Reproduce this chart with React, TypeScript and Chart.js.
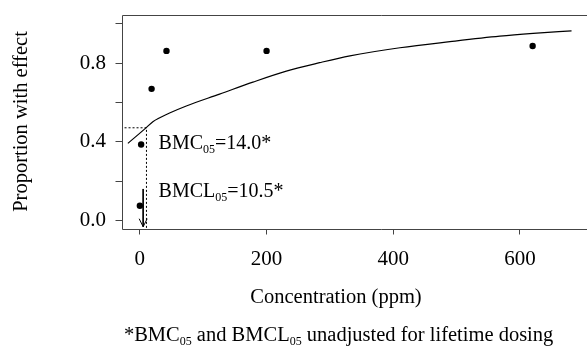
import React, { useEffect, useRef } from "react";
import { Chart, registerables } from "chart.js";

Chart.register(...registerables);

// Observed data (dose in ppm, proportion with effect)
const doses = [0, 2, 18.5, 42, 200, 620];
const proportions = [0.076, 0.387, 0.67, 0.863, 0.863, 0.888];

// Fitted dose-response curve
const curveX = [-18.9, 10.1, 20.5, 46.9, 73.3, 125.8, 178.4, 231.2, 283.7, 331.6, 410.5, 489.5, 568.2, 620.8, 681.4];
const curveY = [0.393, 0.473, 0.503, 0.547, 0.583, 0.643, 0.704, 0.76, 0.803, 0.838, 0.879, 0.91, 0.938, 0.952, 0.965];

// Benchmark guide lines (as drawn)
const bmcGuideX = [-24.2, 10.4, 10.4];
const bmcGuideY = [0.472, 0.472, -0.04];
const bmclArrowX = [5.2, 5.2];
const bmclArrowY = [0.161, -0.031];

// Axis ticks
const xTicks = [0, 200, 400, 600];
const yTicks = [0, 0.2, 0.4, 0.6, 0.8, 1.0];
const yLabeled = [0, 0.4, 0.8];

// Texts
const yTitle = "Proportion with effect";
const xTitle = "Concentration (ppm)";
const bmcLabel = [{ t: "BMC" }, { t: "05", sub: true }, { t: "=14.0*" }];
const bmclLabel = [{ t: "BMCL" }, { t: "05", sub: true }, { t: "=10.5*" }];
const footnote = [
  { t: "*BMC" },
  { t: "05", sub: true },
  { t: " and BMCL" },
  { t: "05", sub: true },
  { t: " unadjusted for lifetime dosing" },
];

const FAMILY = '"Liberation Serif", "DejaVu Serif", "Times New Roman", serif';

type Seg = { t: string; sub?: boolean };

function drawRich(ctx: CanvasRenderingContext2D, segs: Seg[], x: number, y: number, size: number, align: "left" | "center") {
  const subSize = Math.round(size * 0.6);
  const widths = segs.map((s) => {
    ctx.font = `${s.sub ? subSize : size}px ${FAMILY}`;
    return ctx.measureText(s.t).width;
  });
  const total = widths.reduce((a, b) => a + b, 0);
  let cx = align === "center" ? x - total / 2 : x;
  ctx.textAlign = "left";
  ctx.textBaseline = "alphabetic";
  ctx.fillStyle = "#000";
  segs.forEach((s, i) => {
    ctx.font = `${s.sub ? subSize : size}px ${FAMILY}`;
    ctx.fillText(s.t, cx, s.sub ? y + 4 : y);
    cx += widths[i];
  });
}

const extrasPlugin = {
  id: "extras",
  afterDatasetsDraw(chart: any) {
    const ctx = chart.ctx as CanvasRenderingContext2D;
    const { left, top, bottom } = chart.chartArea;
    const xs = chart.scales.x;
    const ys = chart.scales.y;
    ctx.save();
    // frame (right side lies outside the visible picture)
    ctx.strokeStyle = "#444";
    ctx.lineWidth = 1;
    const l = Math.round(left) + 0.5;
    const t = Math.round(top) + 0.5;
    const b = Math.round(bottom) + 0.5;
    ctx.beginPath();
    ctx.moveTo(chart.width, t);
    ctx.lineTo(l, t);
    ctx.lineTo(l, b);
    ctx.lineTo(chart.width, b);
    ctx.stroke();

    // arrow head of BMCL arrow
    const meta = chart.getDatasetMeta(3);
    const end = meta.data[meta.data.length - 1];
    if (end) {
      ctx.strokeStyle = "#000";
      ctx.beginPath();
      ctx.moveTo(end.x - 4, end.y - 8);
      ctx.lineTo(end.x, end.y);
      ctx.lineTo(end.x + 4, end.y - 8);
      ctx.stroke();
    }

    // annotation labels
    drawRich(ctx, bmcLabel, xs.getPixelForValue(29.5), ys.getPixelForValue(0.363), 20, "left");
    drawRich(ctx, bmclLabel, xs.getPixelForValue(29.5), ys.getPixelForValue(0.122), 20, "left");

    // x-axis title and footnote
    drawRich(ctx, [{ t: xTitle }], 336, 303.3, 20.5, "center");
    drawRich(ctx, footnote, 338.6, 341, 20.5, "center");
    ctx.restore();
  },
};

export default function App() {
  const ref = useRef<HTMLCanvasElement | null>(null);

  useEffect(() => {
    if (!ref.current) return;
    const zip = (xa: number[], ya: number[]) => xa.map((x, i) => ({ x, y: ya[i] }));
    const tickFont = { family: FAMILY, size: 21 };
    const chart = new Chart(ref.current, {
      type: "scatter",
      data: {
        datasets: [
          {
            label: "fit",
            data: zip(curveX, curveY),
            showLine: true,
            borderColor: "#000",
            borderWidth: 1.2,
            pointRadius: 0,
            cubicInterpolationMode: "monotone",
          } as any,
          {
            label: "observed",
            data: zip(doses, proportions),
            showLine: false,
            pointRadius: 3.2,
            backgroundColor: "#000",
            borderWidth: 0,
          },
          {
            label: "BMC",
            data: zip(bmcGuideX, bmcGuideY),
            showLine: true,
            borderColor: "#000",
            borderWidth: 1,
            borderDash: [2, 2],
            pointRadius: 0,
            tension: 0,
          },
          {
            label: "BMCL",
            data: zip(bmclArrowX, bmclArrowY),
            showLine: true,
            borderColor: "#000",
            borderWidth: 1,
            pointRadius: 0,
            tension: 0,
          },
        ],
      },
      options: {
        animation: false,
        responsive: false,
        devicePixelRatio: 1,
        layout: { autoPadding: false, padding: { left: 0, top: 14.5, right: 6, bottom: 0 } },
        plugins: { legend: { display: false }, tooltip: { enabled: false }, title: { display: false } },
        scales: {
          x: {
            type: "linear",
            min: -29,
            max: 780,
            afterBuildTicks: (s: any) => {
              s.ticks = xTicks.map((v) => ({ value: v }));
            },
            afterFit: (s: any) => {
              s.height = 118.5;
              s.paddingLeft = 0;
              s.paddingRight = 0;
              s.paddingTop = 0;
              s.paddingBottom = 0;
            },
            grid: { display: true, drawOnChartArea: false, drawTicks: true, tickLength: 6, color: "#444" },
            border: { display: false },
            ticks: { font: tickFont, color: "#000", padding: 12, maxRotation: 0, autoSkip: false, callback: (v: any) => String(v) },
          },
          y: {
            type: "linear",
            min: -0.04,
            max: 1.048,
            afterBuildTicks: (s: any) => {
              s.ticks = yTicks.map((v) => ({ value: v }));
            },
            afterFit: (s: any) => {
              s.width = 121.5;
              s.paddingLeft = 0;
              s.paddingRight = 0;
              s.paddingTop = 0;
              s.paddingBottom = 0;
            },
            grid: { display: true, drawOnChartArea: false, drawTicks: true, tickLength: 6, color: "#444" },
            border: { display: false },
            ticks: {
              font: tickFont,
              color: "#000",
              padding: 9.5,
              autoSkip: false,
              callback: (v: any) => (yLabeled.some((u) => Math.abs(u - v) < 1e-6) ? Number(v).toFixed(1) : ""),
            },
            title: { display: true, text: yTitle, color: "#000", font: { family: FAMILY, size: 20.5 }, padding: { top: 9, bottom: 0 } },
          },
        },
      },
      plugins: [extrasPlugin],
    });
    return () => chart.destroy();
  }, []);

  return (
    <div style={{ position: "fixed", left: 0, top: 0, width: 587, height: 347, overflow: "hidden", background: "#fff" }}>
      <canvas ref={ref} width={640} height={347} style={{ display: "block" }} />
    </div>
  );
}
